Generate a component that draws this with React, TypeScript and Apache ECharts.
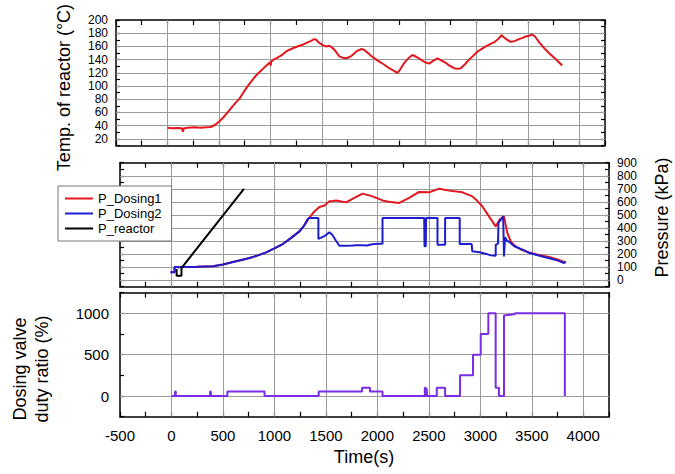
import React, { useEffect, useRef } from 'react';
import * as echarts from 'echarts';

// ---------- data (time in s, value) ----------
const tempReactor: number[][] = [
  [0, 37], [40, 36], [100, 36.5], [140, 36], [150, 31], [160, 36], [200, 37], [260, 37.5], [320, 37], [378, 37.5],
  [420, 38], [460, 41], [500, 46], [540, 52], [572, 58], [610, 65], [636, 70], [670, 76], [700, 81], [733, 89],
  [770, 98], [800, 104], [830, 110], [860, 116], [900, 122], [927, 126], [960, 131], [998, 136], [1003, 131], [1008, 137],
  [1030, 140], [1056, 142], [1090, 145], [1120, 148], [1150, 152], [1185, 155], [1230, 158], [1282, 161], [1320, 163], [1346, 165],
  [1390, 168], [1427, 171], [1445, 170], [1470, 166], [1508, 162], [1540, 160], [1573, 161], [1600, 158], [1621, 155], [1650, 149],
  [1670, 145], [1700, 143], [1734, 142], [1770, 144], [1798, 147], [1840, 153], [1880, 156], [1910, 155], [1940, 151], [1977, 146],
  [2010, 142], [2057, 137], [2100, 133], [2154, 127], [2200, 123], [2234, 120], [2260, 125], [2300, 135], [2340, 142], [2380, 147],
  [2420, 144], [2461, 140], [2500, 136], [2542, 134], [2580, 138], [2622, 142], [2660, 139], [2703, 135], [2740, 131], [2784, 127],
  [2820, 126], [2849, 127], [2890, 133], [2929, 140], [2970, 146], [3010, 152], [3050, 156], [3091, 160], [3130, 163], [3171, 166],
  [3210, 171], [3246, 177], [3290, 171], [3332, 167], [3370, 168], [3414, 171], [3450, 173], [3479, 175], [3510, 176], [3543, 178],
  [3570, 175], [3608, 167], [3650, 159], [3705, 150], [3770, 141], [3834, 131],
];

const pDosing1: number[][] = [
  [-10, 60], [30, 60], [30, 101], [60, 101], [70, 98], [100, 101], [150, 101], [250, 102], [403, 106], [500, 120],
  [597, 139], [680, 155], [759, 170], [840, 190], [920, 213], [1000, 243], [1081, 277], [1160, 322], [1243, 374], [1290, 420],
  [1324, 462], [1380, 520], [1437, 561], [1486, 572], [1534, 604], [1566, 606], [1599, 611], [1650, 602], [1696, 596], [1776, 630],
  [1857, 663], [1953, 642], [2050, 611], [2130, 598], [2212, 592], [2309, 630], [2406, 676], [2503, 673], [2600, 701], [2697, 686],
  [2826, 673], [2922, 642], [2970, 608], [3019, 566], [3084, 489], [3149, 412], [3188, 464], [3230, 489], [3262, 362], [3300, 290],
  [3343, 259], [3400, 232], [3472, 213], [3560, 195], [3666, 178], [3750, 158], [3827, 136],
];

const pDosing2: number[][] = [
  [-10, 60], [30, 60], [30, 101], [60, 101], [70, 98], [100, 101], [150, 101], [250, 102], [403, 106], [500, 120],
  [597, 139], [680, 155], [759, 170], [840, 190], [920, 213], [1000, 243], [1081, 277], [1160, 322], [1243, 374], [1290, 420],
  [1324, 469], [1340, 477], [1427, 477], [1427, 316], [1480, 335], [1534, 366], [1560, 350], [1600, 300], [1631, 264], [1700, 264],
  [1760, 266], [1800, 268], [1850, 267], [1900, 265], [1950, 275], [2019, 280], [2050, 280], [2050, 477], [2455, 477], [2458, 259],
  [2470, 259], [2473, 477], [2584, 477], [2584, 272], [2658, 272], [2658, 477], [2800, 477], [2800, 277], [2916, 277], [2922, 221],
  [2990, 214], [3052, 203], [3100, 190], [3149, 188], [3150, 272], [3172, 280], [3176, 438], [3222, 489], [3230, 182], [3236, 182],
  [3240, 330], [3260, 300], [3278, 297], [3330, 260], [3411, 234], [3472, 210], [3540, 195], [3620, 178], [3700, 162], [3760, 148],
  [3814, 132], [3830, 140],
];

const pReactor: number[][] = [
  [50, 85], [50, 34], [97, 34], [97, 93], [704, 699],
];

const dutyRatio: number[][] = [
  [0, 0], [35, 0], [35, 55], [42, 55], [42, 0], [375, 0], [375, 55], [382, 55], [382, 0], [543, 0],
  [543, 55], [904, 55], [904, 0], [1430, 0], [1430, 55], [1851, 55], [1851, 100], [1928, 100], [1928, 55], [2050, 55],
  [2050, 0], [2461, 0], [2461, 100], [2468, 100], [2468, 0], [2478, 0], [2478, 100], [2484, 100], [2484, 0], [2577, 0],
  [2577, 100], [2658, 100], [2658, 0], [2803, 0], [2803, 250], [2929, 250], [2929, 500], [3004, 500], [3004, 750], [3078, 750],
  [3078, 1000], [3149, 1000], [3149, 100], [3181, 100], [3181, 0], [3230, 0], [3230, 975], [3330, 990], [3340, 1000], [3821, 1000],
  [3821, 0],
];

const timeLabels = [-500, 0, 500, 1000, 1500, 2000, 2500, 3000, 3500, 4000];
const timeGridValues = [0, 500, 1000, 1500, 2000, 2500, 3000, 3500, 4000];
const tempLabels = [20, 40, 60, 80, 100, 120, 140, 160, 180, 200];
const tempGridValues = [20, 40, 60, 80, 100, 120, 140, 160, 180];
const pressureLabels = [0, 100, 200, 300, 400, 500, 600, 700, 800, 900];
const pressureGridValues = [0, 100, 200, 300, 400, 500, 600, 700, 800];
const dutyLabels = [0, 500, 1000];
const dutyGridValues = [0, 500, 1000];
const legendNames = ['P_Dosing1', 'P_Dosing2', 'P_reactor'];

const FONT = '"Liberation Sans", Arial, sans-serif';

export default function App() {
  const ref = useRef<HTMLDivElement>(null);

  useEffect(() => {
    if (!ref.current) return;
    const chart = echarts.init(ref.current, undefined, { renderer: 'svg' });

    const axisLine = { show: true, onZero: false, lineStyle: { color: '#000', width: 1.5 } };
    const tickStyle = { color: '#000', width: 1.2 };
    const labelBase = { color: '#000', fontSize: 15, fontFamily: FONT, lineHeight: 15, formatter: (v: number) => String(v) };

    const xAx = (gridIndex: number, position: string, showLabels: boolean) => ({
      type: 'value',
      gridIndex,
      position,
      min: -500,
      max: 4250,
      interval: 250,
      axisLine,
      axisTick: { show: true, inside: true, length: 5, lineStyle: tickStyle },
      axisLabel: showLabels
        ? { ...labelBase, show: true, margin: 11, customValues: timeLabels }
        : { show: false },
      splitLine: { show: false },
    });

    const yAx = (
      gridIndex: number,
      position: string,
      min: number,
      max: number,
      interval: number,
      ticks: boolean,
      labels: number[] | null,
      margin = 8,
      fontSize = 15
    ) => ({
      type: 'value',
      gridIndex,
      position,
      min,
      max,
      interval,
      axisLine,
      axisTick: { show: ticks, inside: true, length: 4, lineStyle: tickStyle },
      axisLabel: labels
        ? { ...labelBase, fontSize, lineHeight: fontSize, show: true, margin, customValues: labels }
        : { show: false },
      splitLine: { show: false },
    });

    const gridMarkLine = (yVals: number[]) => ({
      silent: true,
      symbol: ['none', 'none'],
      z: 1,
      animation: false,
      label: { show: false },
      emphasis: { disabled: true },
      lineStyle: { color: '#9a9a9a', width: 1, type: 'solid' },
      data: [...timeGridValues.map((v) => ({ xAxis: v })), ...yVals.map((v) => ({ yAxis: v }))],
    });

    const lineSeries = (name: string, data: number[][], color: string, xi: number, yi: number, extra: any = {}) => ({
      type: 'line',
      name,
      data,
      xAxisIndex: xi,
      yAxisIndex: yi,
      symbol: 'none',
      showSymbol: false,
      z: 3,
      lineStyle: { color, width: 2 },
      itemStyle: { color },
      emphasis: { disabled: true },
      ...extra,
    });

    const option: any = {
      animation: false,
      backgroundColor: '#fff',
      grid: [
        { left: 116, top: 20, width: 489, height: 125.5 },
        { left: 120, top: 162.7, width: 489, height: 124 },
        { left: 120, top: 292.7, width: 489, height: 124 },
      ],
      xAxis: [
        xAx(0, 'bottom', false),
        xAx(0, 'top', false),
        xAx(1, 'bottom', false),
        xAx(1, 'top', false),
        xAx(2, 'bottom', true),
        xAx(2, 'top', false),
      ],
      yAxis: [
        yAx(0, 'left', 10, 200, 10, true, tempLabels, 8, 12),
        yAx(0, 'right', 10, 200, 10, true, null),
        yAx(1, 'left', -50, 900, 50, true, null),
        yAx(1, 'right', -50, 900, 50, true, pressureLabels, 8, 12),
        yAx(2, 'left', -250, 1250, 250, true, dutyLabels, 11),
        yAx(2, 'right', -250, 1250, 250, false, null),
      ],
      legend: {
        data: legendNames,
        orient: 'vertical',
        left: 58,
        top: 186,
        icon: 'rect',
        itemWidth: 28,
        itemHeight: 2,
        itemGap: 2,
        padding: [6, 10, 6, 7],
        borderColor: '#777',
        borderWidth: 1,
        backgroundColor: '#fff',
        selectedMode: false,
        textStyle: { color: '#000', fontSize: 13, fontFamily: FONT, lineHeight: 13 },
      },
      series: [
        lineSeries('Temp', tempReactor, '#e3161e', 0, 0, { markLine: gridMarkLine(tempGridValues) }),
        lineSeries('P_Dosing1', pDosing1, '#e3161e', 2, 2, { markLine: gridMarkLine(pressureGridValues) }),
        lineSeries('P_Dosing2', pDosing2, '#1c1cd0', 2, 2),
        lineSeries('P_reactor', pReactor, '#000000', 2, 2),
        lineSeries('Duty', dutyRatio, '#7b2ce6', 4, 4, { markLine: gridMarkLine(dutyGridValues) }),
      ],
      graphic: [
        {
          type: 'text',
          x: 63.5,
          y: 87.5,
          rotation: Math.PI / 2,
          style: { text: 'Temp. of reactor (°C)', font: `18px ${FONT}`, fill: '#000', align: 'center', verticalAlign: 'middle' },
        },
        {
          type: 'text',
          x: 662,
          y: 217.5,
          rotation: Math.PI / 2,
          style: { text: 'Pressure (kPa)', font: `18px ${FONT}`, fill: '#000', align: 'center', verticalAlign: 'middle' },
        },
        {
          type: 'text',
          x: 30.5,
          y: 369,
          rotation: Math.PI / 2,
          style: {
            text: 'Dosing valve\nduty ratio (%)',
            font: `18px ${FONT}`,
            lineHeight: 22,
            fill: '#000',
            align: 'center',
            verticalAlign: 'middle',
          },
        },
        {
          type: 'text',
          x: 364,
          y: 457,
          style: { text: 'Time(s)', font: `18px ${FONT}`, fill: '#000', align: 'center', verticalAlign: 'middle' },
        },
      ],
    };

    chart.setOption(option);
    return () => chart.dispose();
  }, []);

  return (
    <div
      ref={ref}
      style={{ position: 'fixed', left: 0, top: 0, width: 675, height: 474, background: '#fff' }}
    />
  );
}
